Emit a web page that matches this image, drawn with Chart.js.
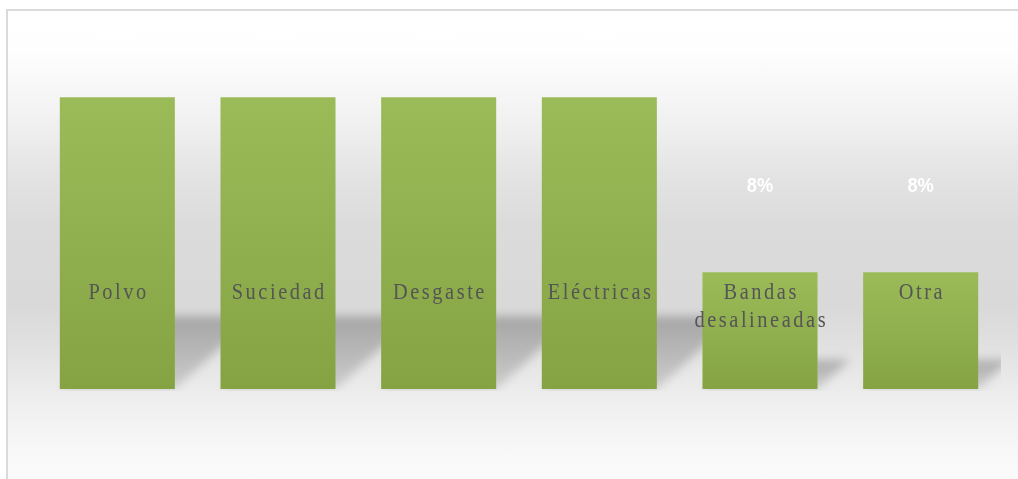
<!DOCTYPE html>
<html>
<head>
<meta charset="utf-8">
<script src="https://cdn.jsdelivr.net/npm/chart.js@4/dist/chart.umd.min.js"></script>
<style>
  body { margin: 0; background: #fff; }
  #wrap { position: relative; width: 1018px; height: 479px; overflow: hidden; }
  #frame {
    position: absolute; left: 6px; top: 9px; width: 1030px; height: 490px;
    border-left: 2px solid #dadada; border-top: 2px solid #dadada;
    background: linear-gradient(to bottom,
      #ffffff 0%, #fefefe 8%, #f9f9f9 14%, #efefef 24%, #e3e3e3 34%, #dbdbdb 44%,
      #d9d9d9 60%, #e0e0e0 68%, #eeeeee 79%, #f7f7f7 89%, #fdfdfd 100%);
  }
  #chart { position: absolute; left: 0; top: 0; }
</style>
</head>
<body>
<div id="wrap">
  <div id="frame"></div>
  <canvas id="chart" width="1018" height="479"></canvas>
</div>
<script>
// Tipos de falla y su porcentaje
const categorias = ['Polvo', 'Suciedad', 'Desgaste', 'Eléctricas', ['Bandas', 'desalineadas'], 'Otra'];
const porcentajes = [20, 20, 20, 20, 8, 8];
const etiquetasValor = porcentajes.map(v => v + '%');

// Sombra inclinada detrás de cada columna
const sombraPlugin = {
    id: 'sombra',
    beforeDatasetsDraw(chart) {
        const ctx = chart.ctx;
        const area = chart.chartArea;
        const meta = chart.getDatasetMeta(0);
        ctx.save();
        ctx.beginPath();
        ctx.rect(area.left, area.top, area.right - area.left, area.bottom - area.top + 2);
        ctx.clip();
        ctx.filter = 'blur(5px)';
        meta.data.forEach(bar => {
            const h = (bar.base - bar.y) * 0.25;
            const l = bar.x - bar.width / 2;
            const r = bar.x + bar.width / 2;
            const g = ctx.createLinearGradient(0, bar.base - h, 0, bar.base);
            g.addColorStop(0, 'rgba(0,0,0,0.24)');
            g.addColorStop(1, 'rgba(0,0,0,0.13)');
            ctx.fillStyle = g;
            ctx.beginPath();
            ctx.moveTo(l, bar.base);
            ctx.lineTo(r, bar.base);
            ctx.lineTo(r + h * 1.1, bar.base - h);
            ctx.lineTo(l + h * 1.1, bar.base - h);
            ctx.closePath();
            ctx.fill();
        });
        ctx.restore();
    }
};

// Nombres de categoría dentro de las columnas y porcentajes encima
const textosPlugin = {
    id: 'textos',
    afterDatasetsDraw(chart) {
        const ctx = chart.ctx;
        const area = chart.chartArea;
        const x = chart.scales.x;
        const y = chart.scales.y;
        ctx.save();
        ctx.textAlign = 'center';
        ctx.textBaseline = 'alphabetic';

        // nombres en serif, algo condensados y espaciados
        ctx.fillStyle = '#555555';
        ctx.font = '24px "Liberation Serif", "Times New Roman", serif';
        ctx.letterSpacing = '3px';
        categorias.forEach((cat, i) => {
            const lineas = Array.isArray(cat) ? cat : [cat];
            lineas.forEach((txt, j) => {
                ctx.save();
                ctx.translate(x.getPixelForValue(i), area.bottom - 90 + j * 28);
                ctx.scale(0.85, 1);
                ctx.fillText(txt, 1.5, 0);
                ctx.restore();
            });
        });

        // porcentajes en blanco
        ctx.fillStyle = '#ffffff';
        ctx.font = 'bold 21px "Liberation Sans", Arial, sans-serif';
        ctx.letterSpacing = '0px';
        ctx.textBaseline = 'middle';
        porcentajes.forEach((v, i) => {
            ctx.save();
            ctx.translate(x.getPixelForValue(i), y.getPixelForValue(v * 0.88 + 6.9));
            ctx.scale(0.87, 1);
            ctx.fillText(etiquetasValor[i], 0, 0);
            ctx.restore();
        });
        ctx.restore();
    }
};

function rellenoBarra(context) {
    const chart = context.chart;
    const y = chart.scales.y;
    if (!y || !chart.chartArea) return '#9bbb59';
    const top = y.getPixelForValue(porcentajes[context.dataIndex]);
    const base = y.getPixelForValue(0);
    const g = chart.ctx.createLinearGradient(0, top, 0, base);
    g.addColorStop(0, '#9bbb59');
    g.addColorStop(1, '#85a343');
    return g;
}

const ctx = document.getElementById('chart').getContext('2d');
new Chart(ctx, {
    type: 'bar',
    data: {
        labels: categorias,
        datasets: [{
            data: porcentajes,
            backgroundColor: rellenoBarra,
            borderWidth: 0,
            barPercentage: 0.716,
            categoryPercentage: 1
        }]
    },
    options: {
        responsive: false,
        animation: false,
        devicePixelRatio: 1,
        layout: { padding: { left: 37, right: 17, top: 39, bottom: 90 } },
        plugins: { legend: { display: false }, tooltip: { enabled: false } },
        scales: {
            x: { display: false, offset: true },
            y: { display: false, min: 0, max: 24 }
        }
    },
    plugins: [sombraPlugin, textosPlugin]
});
</script>
</body>
</html>
